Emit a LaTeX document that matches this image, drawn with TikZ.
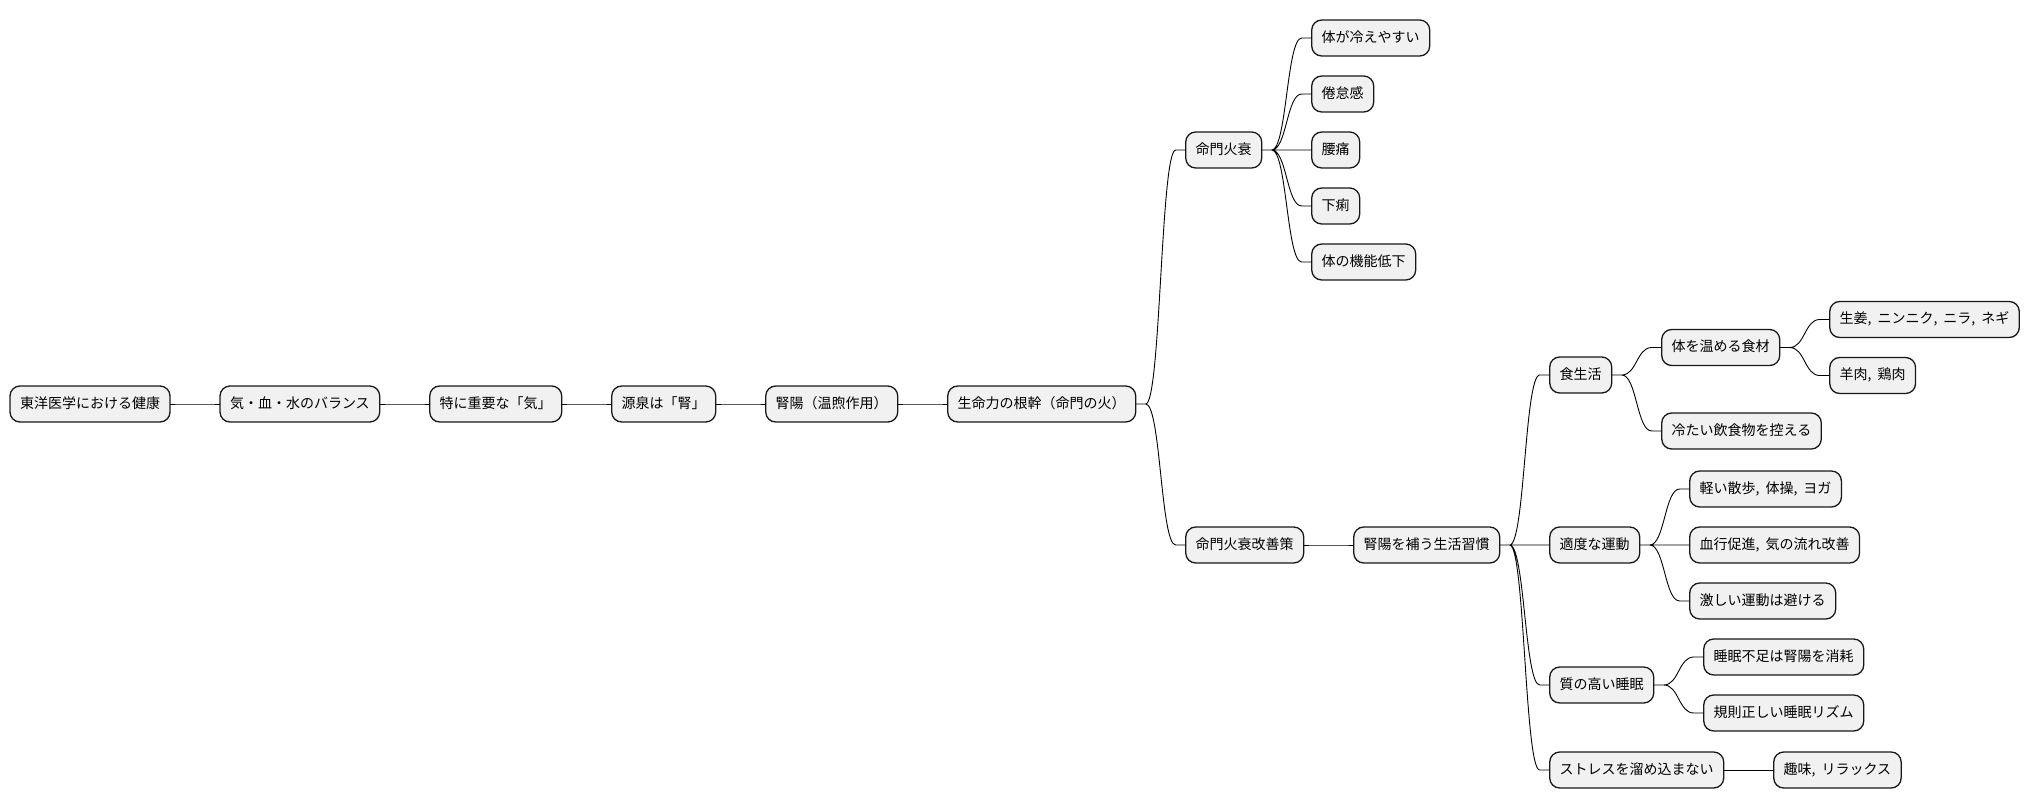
\documentclass[tikz,border=0pt]{standalone}
\usepackage{fontspec}
\setmainfont[WordSpace=1.9]{Noto Sans CJK JP}
\usetikzlibrary{positioning}
\definecolor{ideafill}{HTML}{F1F1F1}
\definecolor{idealine}{HTML}{181818}
\tikzset{
  every picture/.style={
    line width=0.9pt
  },
  idea/.style={
    draw=idealine, fill=ideafill, line width=1.3pt, rounded corners=10pt,
    minimum height=36pt, inner xsep=10pt, inner ysep=3pt, outer sep=0pt,
    text height=11pt, text depth=3pt,
    font=\fontsize{14pt}{17pt}\selectfont
  },
  % short stub, curve, short stub (mind map branch)
  branch/.style={
    to path={-- ++(10pt,0) .. controls +(15pt,0) and +(-15pt,0)
      .. ([xshift=-10pt]\tikztotarget.west) -- (\tikztotarget.west)}
  }
}

\begin{document}
\begin{tikzpicture}
  \useasboundingbox (0,0) rectangle (2027pt,-809pt);

  \node[idea, anchor=west] (health) at (10pt,-404pt) {東洋医学における健康};
  \node[idea, right=50pt of health] (balance) {気・血・水のバランス};
  \node[idea, right=50pt of balance] (keyqi) {特に重要な「気」};
  \node[idea, right=50pt of keyqi] (source) {源泉は「腎」};
  \node[idea, right=50pt of source] (kidyang) {腎陽（温煦作用）};
  \node[idea, right=50pt of kidyang] (vital) {生命力の根幹（命門の火）};

  \node[idea, right=50pt of vital, yshift=254pt] (fire) {命門火衰};
  \node[idea, right=50pt of fire, yshift=112pt] (chill) {体が冷えやすい};
  \node[idea, right=50pt of fire, yshift=56pt] (fatigue) {倦怠感};
  \node[idea, right=50pt of fire] (backache) {腰痛};
  \node[idea, right=50pt of fire, yshift=-56pt] (diarrhea) {下痢};
  \node[idea, right=50pt of fire, yshift=-112pt] (decline) {体の機能低下};

  \node[idea, right=50pt of vital, yshift=-141pt] (remedy) {命門火衰改善策};
  \node[idea, right=50pt of remedy] (habits) {腎陽を補う生活習慣};

  \node[idea, right=50pt of habits, yshift=170pt] (diet) {食生活};
  \node[idea, right=50pt of diet, yshift=27.5pt] (warmfood) {体を温める食材};
  \node[idea, right=50pt of warmfood, yshift=28pt] (ginger) {生姜, ニンニク, ニラ, ネギ};
  \node[idea, right=50pt of warmfood, yshift=-28pt] (meat) {羊肉, 鶏肉};
  \node[idea, right=50pt of diet, yshift=-56pt] (coldfood) {冷たい飲食物を控える};

  \node[idea, right=50pt of habits] (exercise) {適度な運動};
  \node[idea, right=50pt of exercise, yshift=56pt] (light) {軽い散歩, 体操, ヨガ};
  \node[idea, right=50pt of exercise] (blood) {血行促進, 気の流れ改善};
  \node[idea, right=50pt of exercise, yshift=-56pt] (hard) {激しい運動は避ける};

  \node[idea, right=50pt of habits, yshift=-140pt] (sleep) {質の高い睡眠};
  \node[idea, right=50pt of sleep, yshift=28pt] (lack) {睡眠不足は腎陽を消耗};
  \node[idea, right=50pt of sleep, yshift=-28pt] (rhythm) {規則正しい睡眠リズム};

  \node[idea, right=50pt of habits, yshift=-225pt] (stress) {ストレスを溜め込まない};
  \node[idea, right=50pt of stress] (hobby) {趣味, リラックス};

  \draw (health.east) to[branch] (balance)
    (balance.east) to[branch] (keyqi)
    (keyqi.east) to[branch] (source)
    (source.east) to[branch] (kidyang)
    (kidyang.east) to[branch] (vital);
  \draw (vital.east) to[branch] (fire)
    (vital.east) to[branch] (remedy);
  \draw (fire.east) to[branch] (chill)
    (fire.east) to[branch] (fatigue)
    (fire.east) to[branch] (backache)
    (fire.east) to[branch] (diarrhea)
    (fire.east) to[branch] (decline);
  \draw (remedy.east) to[branch] (habits);
  \draw (habits.east) to[branch] (diet)
    (habits.east) to[branch] (exercise)
    (habits.east) to[branch] (sleep)
    (habits.east) to[branch] (stress);
  \draw (diet.east) to[branch] (warmfood)
    (diet.east) to[branch] (coldfood)
    (warmfood.east) to[branch] (ginger)
    (warmfood.east) to[branch] (meat);
  \draw (exercise.east) to[branch] (light)
    (exercise.east) to[branch] (blood)
    (exercise.east) to[branch] (hard);
  \draw (sleep.east) to[branch] (lack)
    (sleep.east) to[branch] (rhythm);
  \draw (stress.east) to[branch] (hobby);
\end{tikzpicture}
\end{document}
